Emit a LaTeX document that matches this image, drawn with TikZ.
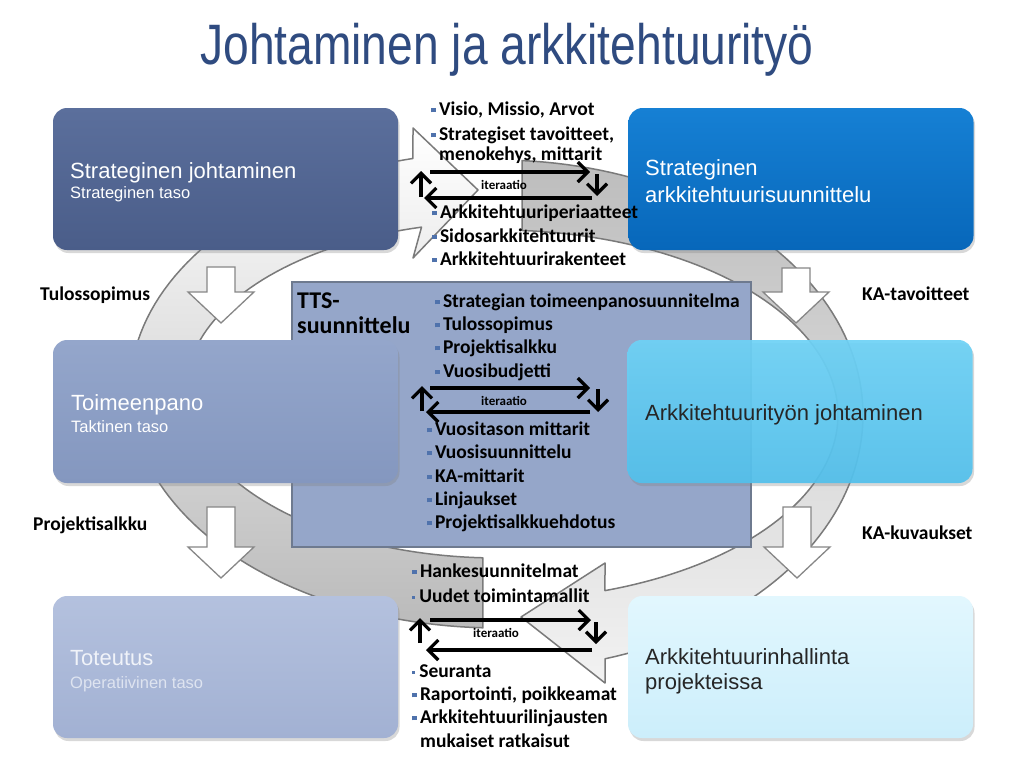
\documentclass[tikz,border=0pt]{standalone}
\usepackage{fontspec}
\usetikzlibrary{arrows.meta,shadows}
\newfontfamily\arialfont{Liberation Sans}
\newfontfamily\calfont{Carlito}
\newfontfamily\titlefont[FakeStretch=0.81]{Liberation Sans}
\definecolor{titleblue}{HTML}{2F4B80}
\definecolor{bulc}{HTML}{4F72AC}
\definecolor{ringline}{HTML}{7A7A7A}
\definecolor{ttsline}{HTML}{6E7A8F}
\newcommand\sqb{\textcolor{bulc}{\rule[0.13em]{0.25em}{0.25em}}\hspace{0.15em}}
\newcommand\dotb{\textcolor{bulc}{\rule[0.18em]{0.15em}{0.15em}}\hspace{0.22em}}
\tikzset{
  box/.style={rounded corners=14pt, minimum width=345pt, minimum height=142pt, inner sep=0pt,
    drop shadow={shadow xshift=1.5pt, shadow yshift=-3pt, opacity=0.3}},
  lbl/.style={font=\calfont\bfseries\fontsize{19.5}{22}\selectfont, anchor=base west, inner sep=0pt, text=black},
  boxtitle/.style={font=\arialfont\fontsize{22}{24}\selectfont, anchor=base west, inner sep=0pt},
  boxsub/.style={font=\arialfont\fontsize{16.5}{18}\selectfont, anchor=base west, inner sep=0pt},
  iter/.style={line width=3.2pt, -{Straight Barb[length=10pt,width=20pt]}},
  itlbl/.style={font=\calfont\bfseries\fontsize{13}{14}\selectfont, anchor=base west, inner sep=0pt},
  ringarrow/.style={draw=ringline, line width=1.5pt, line join=round},
  darr/.pic={\path[fill=white, draw=ringline!90, line width=1.3pt, line join=miter]
     (-14,0) -- (14,0) -- (14,#1) -- (33,#1) -- (0,#1+31) -- (-33,#1) -- (-14,#1) -- cycle;}
}
\begin{document}
\begin{tikzpicture}[x=1pt,y=-1pt]
\path[fill=white] (0,0) rectangle (1024,774);
\useasboundingbox (0,0) rectangle (1024,774);

% title
\node[font=\titlefont\fontsize{57}{60}\selectfont, text=titleblue, anchor=base, inner sep=0pt] (title) at (507,64) {Johtaminen ja arkkitehtuurityö};

% ring arrows
\path[ringarrow, top color=white, middle color=black!7, bottom color=black!27]
  plot[domain=92.34:256.64, samples=90, variable=\t] ({498+368*cos(\t)},{390+238*sin(\t)})
  -- (413,128) -- (478,190) -- (413,258)
  -- plot[domain=255.81:92.76, samples=90, variable=\t] ({498+312*cos(\t)},{390+168*sin(\t)})
  -- cycle;
\path[ringarrow, top color=black!26, middle color=black!13, bottom color=black!5]
  plot[domain=273.77:432.95, samples=90, variable=\t] ({498+365*cos(\t)},{415+255*sin(\t)})
  -- (605,683) -- (521,617) -- (605,563)
  -- plot[domain=431.66:274.05, samples=90, variable=\t] ({498+340*cos(\t)},{415+185*sin(\t)})
  -- cycle;

% white down arrows
\pic at (221,267) {darr=25};
\pic at (796,268) {darr=24};
\pic at (221,507) {darr=40};
\pic at (797,507) {darr=40};

% TTS box
\node[draw=ttsline, line width=1.5pt, fill={rgb,255:red,149;green,166;blue,201},
  minimum width=459pt, minimum height=265pt, inner sep=0pt] (tts) at (521.5,414.5) {};

% six boxes
\node[box, top color={rgb,255:red,91;green,111;blue,156}, bottom color={rgb,255:red,74;green,93;blue,137}] (sj) at (225.5,179) {};
\node[box, top color={rgb,255:red,22;green,128;blue,212}, bottom color={rgb,255:red,7;green,103;blue,186}] (sa) at (801,179) {};
\node[box, minimum height=143pt, top color={rgb,255:red,148;green,166;blue,203}, bottom color={rgb,255:red,132;green,151;blue,191}] (tp) at (225.5,411.5) {};
\node[box, minimum height=143pt, opacity=0.93, top color={rgb,255:red,110;green,210;blue,246}, bottom color={rgb,255:red,82;green,192;blue,236}] (aj) at (800,411.5) {};
\node[box, top color={rgb,255:red,180;green,193;blue,222}, bottom color={rgb,255:red,162;green,177;blue,211}] (tt) at (225.5,667) {};
\node[box, top color={rgb,255:red,226;green,247;blue,254}, bottom color={rgb,255:red,204;green,238;blue,251}] (ah) at (800.5,667) {};

% box texts
\node[boxtitle, text=white] (sjt) at (70,178) {Strateginen johtaminen};
\node[boxsub, text=white] (sjs) at (70,198) {Strateginen taso};
\node[boxtitle, text=white] (sat) at (645,175) {Strateginen};
\node[boxtitle, text=white] (sat2) at (645,202) {arkkitehtuurisuunnittelu};
\node[boxtitle, text=white] (tpt) at (71,410) {Toimeenpano};
\node[boxsub, text=white] (tps) at (71,432) {Taktinen taso};
\node[boxtitle, text=black!85] (ajt) at (645,420) {Arkkitehtuurityön johtaminen};
\node[boxtitle, text={rgb,255:red,240;green,243;blue,249}] (ttt) at (70,665) {Toteutus};
\node[boxsub, text={rgb,255:red,222;green,228;blue,240}] (tts2) at (70,688) {Operatiivinen taso};
\node[boxtitle, text=black!85] (aht) at (645,664) {Arkkitehtuurinhallinta};
\node[boxtitle, text=black!85] (aht2) at (645,689) {projekteissa};

% side labels
\node[lbl] (l1) at (40,300) {Tulossopimus};
\node[lbl] (l2) at (862,300) {KA-tavoitteet};
\node[lbl] (l3) at (33,530) {Projektisalkku};
\node[lbl] (l4) at (862,539) {KA-kuvaukset};

% top texts
\node[lbl] (t1) at (431,115) {\sqb Visio, Missio, Arvot};
\node[lbl] (t2) at (431,140) {\sqb Strategiset tavoitteet,};
\node[lbl] (t3) at (439,160) {menokehys, mittarit};
\node[lbl] (t4) at (432,218) {\sqb Arkkitehtuuriperiaatteet};
\node[lbl] (t5) at (432,242) {\sqb Sidosarkkitehtuurit};
\node[lbl] (t6) at (432,265) {\sqb Arkkitehtuurirakenteet};

% TTS texts
\node[lbl, font=\calfont\bfseries\fontsize{24}{26}\selectfont] (tts1) at (297,308) {TTS-};
\node[lbl, font=\calfont\bfseries\fontsize{24}{26}\selectfont] (tts2b) at (297,333) {suunnittelu};
\node[lbl] (m1) at (435,307) {\sqb Strategian toimeenpanosuunnitelma};
\node[lbl] (m2) at (435,330) {\sqb Tulossopimus};
\node[lbl] (m3) at (435,353) {\sqb Projektisalkku};
\node[lbl] (m4) at (435,377) {\sqb Vuosibudjetti};
\node[lbl] (m5) at (427,435) {\sqb Vuositason mittarit};
\node[lbl] (m6) at (427,458) {\sqb Vuosisuunnittelu};
\node[lbl] (m7) at (427,482) {\sqb KA-mittarit};
\node[lbl] (m8) at (427,505) {\sqb Linjaukset};
\node[lbl] (m9) at (427,528) {\sqb Projektisalkkuehdotus};

% bottom texts
\node[lbl] (b1) at (412,577) {\sqb Hankesuunnitelmat};
\node[lbl] (b2) at (412,602) {\dotb Uudet toimintamallit};
\node[lbl] (b3) at (412,677) {\dotb Seuranta};
\node[lbl] (b4) at (412,700) {\sqb Raportointi, poikkeamat};
\node[lbl] (b5) at (412,723) {\sqb Arkkitehtuurilinjausten};
\node[lbl] (b6) at (420,747) {mukaiset ratkaisut};

% iteration arrows (top)
\coordinate (a1) at (430,172); \coordinate (a2) at (590,172);
\coordinate (a3) at (597,174); \coordinate (a4) at (597,196);
\coordinate (a5) at (592,198); \coordinate (a6) at (424,198);
\coordinate (a7) at (421,197); \coordinate (a8) at (421,171);
\draw[iter] (a1) -- (a2);
\draw[iter] (a3) -- (a4);
\draw[iter] (a5) -- (a6);
\draw[iter] (a7) -- (a8);
\node[itlbl] (i1) at (481,189) {iteraatio};

% iteration arrows (middle)
\coordinate (c1) at (430,388); \coordinate (c2) at (590,388);
\coordinate (c3) at (598,389); \coordinate (c4) at (598,412);
\coordinate (c5) at (590,412); \coordinate (c6) at (426,412);
\coordinate (c7) at (422,411); \coordinate (c8) at (422,386);
\draw[iter] (c1) -- (c2);
\draw[iter] (c3) -- (c4);
\draw[iter] (c5) -- (c6);
\draw[iter] (c7) -- (c8);
\node[itlbl] (i2) at (481,405) {iteraatio};

% iteration arrows (bottom)
\coordinate (d1) at (430,620); \coordinate (d2) at (591,620);
\coordinate (d3) at (596,622); \coordinate (d4) at (596,644);
\coordinate (d5) at (592,650); \coordinate (d6) at (426,650);
\coordinate (d7) at (420,643); \coordinate (d8) at (420,618);
\draw[iter] (d1) -- (d2);
\draw[iter] (d3) -- (d4);
\draw[iter] (d5) -- (d6);
\draw[iter] (d7) -- (d8);
\node[itlbl] (i3) at (473,637) {iteraatio};
\end{tikzpicture}
\end{document}
